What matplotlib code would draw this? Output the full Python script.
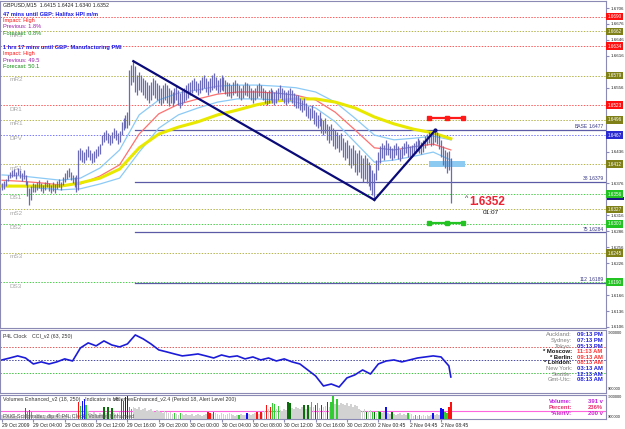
import matplotlib
matplotlib.use("Agg")
import matplotlib.pyplot as plt
import matplotlib.transforms as mtrans
from matplotlib.patches import Rectangle

plt.rcParams['font.family'] = ['Liberation Sans', 'DejaVu Sans']

W, H, DPI = 625, 429, 100

# ---------------------------------------------------------------- data
header_text = "GBPUSD,M15  1.6415 1.6424 1.6340 1.6352"

time_labels = ["29 Oct 2009", "29 Oct 04:00", "29 Oct 08:00", "29 Oct 12:00",
               "29 Oct 16:00", "29 Oct 20:00", "30 Oct 00:00", "30 Oct 04:00",
               "30 Oct 08:00", "30 Oct 12:00", "30 Oct 16:00", "30 Oct 20:00",
               "2 Nov 00:45", "2 Nov 04:45", "2 Nov 08:45"]
bars_per_label = 16

# bar highs / lows in pips above 1.6000
high_pips = [377, 380, 384, 392, 398, 401, 404, 398, 405, 401, 396, 401, 392,
             380, 367, 371, 377,
             375, 379, 382, 377, 373, 379, 382, 377, 373, 379, 375, 380, 384, 379,
             388, 396, 401, 405, 398, 392, 388, 392,
             439,
             443, 439, 435, 441, 446, 439, 433, 437, 441, 446, 450,
             467, 473, 477, 471, 467, 473, 480, 477, 471, 475,
             492, 499, 505, 510,
             590,
             599, 608, 596, 580, 586,
             580, 574, 571, 567, 561, 567, 574, 571, 565, 561, 556, 561, 565, 561, 556,
             552, 548, 556, 561, 552, 546, 552, 556, 561, 565,
             567, 571, 574, 569, 565, 571, 577, 580, 574, 569, 574, 580, 583, 577, 571,
             574, 580, 577, 571, 567,
             565, 561, 567, 571, 565, 561, 556, 561, 567, 565, 561, 556, 552, 556, 561,
             565, 561, 556, 552, 548, 552, 556, 552, 548, 552,
             556, 561, 556, 552, 548, 552, 556, 552, 546, 542,
             542, 537, 533, 537, 527, 522, 518, 524, 514, 510, 505, 510, 499, 495, 499,
             488, 484, 488, 480, 477,
             473, 467, 471, 461, 454, 458, 448, 443, 448, 439, 433, 439, 429, 424, 429,
             424, 416, 411, 401, 396,
             420, 435, 446, 452, 448, 458,
             452, 446, 443, 448, 452, 446, 441, 446, 452, 456, 450, 446, 448, 452, 456,
             461, 458, 454, 458,
             465, 469, 473, 467, 471, 477,
             473, 467, 458, 446, 439,
             435, 437,
             424]
low_pips = [364, 366, 371, 380, 386, 388, 390, 384, 392, 386, 380, 385, 373,
            352, 335, 345, 360,
            360, 364, 367, 362, 358, 364, 369, 362, 358, 362, 358, 366, 369, 364,
            373, 379, 384, 388, 382, 377, 369, 360,
            364,
            420, 416, 414, 420, 426, 420, 414, 416, 424, 428, 431,
            448, 454, 458, 452, 448, 452, 461, 458, 450, 454,
            467, 477, 480, 480,
            486,
            561, 567, 548, 542, 552,
            548, 542, 537, 533, 527, 533, 542, 537, 533, 527, 524, 527, 533, 527, 522,
            527, 522, 527, 533, 524, 518, 524, 530, 533, 537,
            542, 546, 552, 548, 542, 546, 552, 556, 548, 542, 548, 552, 556, 552, 546,
            548, 552, 550, 544, 540,
            540, 537, 542, 546, 540, 537, 533, 537, 542, 540, 537, 533, 527, 533, 537,
            540, 537, 533, 527, 524, 527, 533, 527, 524, 527,
            533, 537, 533, 527, 524, 527, 533, 527, 522, 518,
            518, 514, 510, 514, 503, 499, 495, 499, 488, 484, 480, 484, 471, 467, 471,
            458, 452, 458, 446, 441,
            443, 435, 439, 426, 420, 424, 411, 405, 411, 398, 392, 398, 386, 379, 384,
            377, 371, 364, 354, 345,
            382, 401, 414, 424, 420, 429,
            429, 424, 420, 424, 429, 422, 418, 424, 429, 433, 426, 422, 426, 429, 433,
            437, 433, 431, 435,
            443, 448, 452, 446, 448, 454,
            450, 441, 426, 411, 405,
            396, 401,
            340]
last_close = 1.6352

# moving averages read every 10 bars (pips above 1.6000)
ma_idx = [0, 10, 20, 30, 40, 50, 60, 70, 80, 90, 100, 110, 120, 130, 140, 150,
          160, 170, 180, 190, 200, 210, 220, 229]
ma_slow = [371, 371, 371, 371, 377, 386, 403, 443, 469, 482, 492, 505, 514, 524,
           531, 535, 535, 529, 518, 501, 488, 478, 471, 460]
ma_mid = [382, 380, 377, 373, 375, 390, 411, 469, 507, 525, 535, 544, 548, 548,
          546, 542, 533, 510, 477, 443, 439, 445, 450, 439]
band_up = [392, 390, 386, 382, 386, 405, 439, 505, 533, 546, 552, 559, 561, 561,
           559, 556, 548, 529, 499, 467, 458, 461, 465, 458]
band_dn = [373, 371, 367, 364, 366, 375, 386, 435, 480, 505, 518, 529, 535, 535,
           533, 529, 518, 492, 454, 416, 420, 427, 435, 420]

# daily pivots
pivot_names = ["DR3", "mR3", "DR2", "mR2", "DR1", "mR1", "DPV",
               "mS1", "DS1", "mS2", "DS2", "mS3", "DS3"]
pivot_values = [1.6690, 1.6662, 1.6634, 1.6579, 1.6523, 1.6496, 1.6467,
                1.6412, 1.6356, 1.6327, 1.6300, 1.6245, 1.6190]
pivot_kind = ["R", "m", "R", "m", "R", "m", "P", "m", "S", "m", "S", "m", "S"]
pivot_label_hidden = ["DR3", "DR2"]

# fibo projection levels
fib_names = ["BASE", "38", "75", "112"]
fib_values = [1.6477, 1.6379, 1.6284, 1.6189]
fib_start_bar = 68

# trend lines (bar index, price)
trend_a = [(67, 1.6606), (190, 1.6345)]
trend_b = [(190, 1.6345), (221, 1.6476)]

# objects right of price
marker_bars = [218, 227, 235]
marker_red_price = 1.6500
marker_green_price = 1.6301
zone_bars = (218, 236)
zone_prices = (1.6407, 1.6418)
countdown_text = "01:07"

# CCI, read every 4 bars
cci_idx = list(range(0, 229, 4)) + [229]
cci_values = [0, 15, 31, 15, -31, -15, -31, -15, 8, -8,
              92, 131, 108, 146, 115, 100, 123, 192, 162, 123,
              77, 62, 46, 31, 38, 46, 31, 15, 38, 23,
              31, 8, 23, 0, 15, -8, 8, -15, -31, -77,
              -123, -200, -185, -208, -138, -115, -77, -108, -31, -8,
              0, -15, 0, 15, 23, 31, 23, -46, -131]
cci_levels = [100, 0, -100]

# volumes and colour class per bar
volumes = [100, 75, 125, 100, 75, 100, 125, 75, 100, 75, 100,
           125, 275, 200, 225, 175,
           100, 75, 125, 100, 75, 50, 100, 75, 125, 100, 75, 100, 125, 150, 100, 75,
           100, 125, 75, 100, 125, 100, 150,
           425, 325, 450, 500, 350, 200,
           150, 125, 175, 125, 100, 150, 125,
           300, 150, 300, 125, 275, 150, 125,
           150, 175,
           500, 450, 550, 575, 300, 250,
           300, 275, 250, 300, 225, 250, 275, 200, 225, 250, 200, 175, 225, 200, 175,
           150, 200, 175, 150, 175, 125, 150, 125, 100, 150, 125, 100, 125, 100,
           100, 125, 75, 100, 125, 100, 75, 100, 125,
           175, 150, 125, 175,
           150, 125, 100, 150, 125, 100, 125, 150, 125, 100, 75, 100,
           100,
           125, 100, 100,
           150,
           125, 100, 125, 150,
           175, 125, 175, 150,
           200,
           350, 250, 300,
           400, 375, 250, 325, 225, 200,
           250, 225,
           425, 400, 275, 250, 300,
           275, 250, 300,
           350, 250, 350,
           300,
           425, 300, 350, 400, 275, 350, 300, 325,
           425, 300, 425,
           575, 375, 500, 350,
           400, 375, 350, 400, 325, 375, 300, 350, 325,
           250, 225, 200, 250,
           175,
           200, 225,
           175, 175, 150, 200, 175, 150,
           175,
           300,
           150, 125,
           175,
           125, 100, 125, 150, 100, 125, 100,
           150,
           100, 125, 75,
           100, 75, 100,
           75, 100, 75, 100, 75, 100,
           150,
           100, 125, 100,
           275, 250, 175, 150, 300, 425]
vol_class = ("wwwwwwwwwww" + "wrgrg" + "w" * 23 + "rgbbgw" + "w" * 7 +
             "dwdwdww" + "ww" + "rrbbgg" +
             "wwwwwwwwwwwwwwwwwwwwwgwwgwwww" + "w" * 9 + "rrwr" + "w" * 12 +
             "g" + "www" + "b" + "wwww" + "rwrw" + "w" + "rwr" + "ggwgww" + "ww" +
             "ddwww" + "www" + "dwd" + "w" + "gwdgwdww" + "dwg" + "gwgw" + "w" * 9 +
             "wwww" + "d" + "ww" + "gdwgdw" + "w" + "b" + "ww" + "d" + "w" * 7 +
             "g" + "www" + "gwg" + "w" * 6 + "b" + "www" + "bbggrr")
alert_level = 200

events = [("47 mins until GBP: Halifax HPI m/m", "#1a1ae6", "bold", 14),
          ("Impact: High", "#ff1010", "normal", 20.5),
          ("Previous: 1.8%", "#9a1aa8", "normal", 27),
          ("Forecast: 0.8%", "#138a13", "normal", 33.5),
          ("1 hrs 17 mins until GBP: Manufacturing PMI", "#1a1ae6", "bold", 47),
          ("Impact: High", "#ff1010", "normal", 53.5),
          ("Previous: 49.5", "#9a1aa8", "normal", 60),
          ("Forecast: 50.1", "#138a13", "normal", 66.5)]

clock_places = ["Auckland:", "Sydney:", "Tokyo:", "* Moscow:", "* Berlin:",
                "* London:", "New York:", "Seattle:", "Gmt-Utc:"]
clock_times = ["09:13 PM", "07:13 PM", "05:13 PM", "11:13 AM", "09:13 AM",
               "08:13 AM", "03:13 AM", "12:13 AM", "08:13 AM"]

vol_info_names = ["Volume:", "Percent:", "*AlertV:"]
vol_info_values = ["391 v", "236%", "200 v"]

# ---------------------------------------------------------------- layout
fig = plt.figure(figsize=(W / DPI, H / DPI), dpi=DPI)
fig.patch.set_facecolor("white")
FRAME = "#8a8ab4"
BAR_X0, BAR_DX = 2.0, 1.96
XL = ((0 - BAR_X0) / BAR_DX, (606 - BAR_X0) / BAR_DX)
PX = 0.0001881  # price per pixel


def axes_px(x0, y0, x1, y1):
    a = fig.add_axes([x0 / W, 1 - y1 / H, (x1 - x0) / W, (y1 - y0) / H])
    a.set_facecolor("white")
    for s in a.spines.values():
        s.set_color(FRAME)
        s.set_linewidth(0.8)
    a.set_xlim(*XL)
    return a


def ftext(x, y, s, **kw):
    return fig.text(x / W, 1 - y / H, s, **kw)


def pips(v):
    return [1.6 + p / 10000.0 for p in v]


n = len(high_pips)
idx = list(range(n))
P_TOP = 1.6706 + 7 * PX
P_BOT = 1.6706 - 320 * PX

# ---------------- main price window
ax = axes_px(0, 1, 606, 328)
ax.set_ylim(P_BOT, P_TOP)
ax.set_xticks([])
ax.yaxis.tick_right()
yt_all = [1.6706 - 0.0030 * k for k in range(21)]
ax.set_yticks(yt_all)
yt_lab = ["" if min(abs(t - v) for v in pivot_values + [last_close]) < 5 * PX else f"{t:.4f}"
          for t in yt_all]
ax.set_yticklabels(yt_lab)
ax.tick_params(axis="y", labelsize=3.2, length=2, pad=1.2, color=FRAME, labelcolor="#222222")
blend = mtrans.blended_transform_factory(ax.transAxes, ax.transData)

level_col = {"R": "#ff5a5a", "m": "#b4b450", "P": "#7878ff", "S": "#4ccc4c"}
box_col = {"R": "#ff1010", "m": "#808018", "P": "#2a2ad0", "S": "#22c322"}
for name, val, kind in zip(pivot_names, pivot_values, pivot_kind):
    ax.axhline(val, color=level_col[kind], lw=0.7, ls=(0, (1.5, 1.5)), zorder=1)
    if name not in pivot_label_hidden:
        ax.annotate(name, (4, val), xytext=(0, -1), textcoords="offset points",
                    fontsize=4.6, color="#a8a8a8", va="top", ha="left", zorder=1)
    ax.text(1.003, val, f"{val:.4f}", transform=blend, fontsize=3.3, color="white",
            va="center", ha="left", clip_on=False, zorder=10,
            bbox=dict(boxstyle="square,pad=0.3", fc=box_col[kind], ec="none"))

# current price marker
ax.add_patch(Rectangle((1.002, last_close - 3.5 * PX), 0.027, 2.2 * PX, transform=blend,
                       fc="#1a1a80", ec="none", clip_on=False, zorder=9))

for name, val in zip(fib_names, fib_values):
    ax.plot([fib_start_bar, XL[1]], [val, val], color="#5a5aa6", lw=0.9, zorder=2)
    ax.text(0.996, val + 0.5 * PX, f"{val:.4f}", transform=blend, fontsize=3.6,
            color="#3a3a8a", ha="right", va="bottom", zorder=3)
    ax.text(0.970, val + 0.5 * PX, name, transform=blend, fontsize=3.6,
            color="#3a3a8a", ha="right", va="bottom", zorder=3)

# zone and markers
ax.add_patch(Rectangle((zone_bars[0], zone_prices[0]), zone_bars[1] - zone_bars[0],
                       zone_prices[1] - zone_prices[0], fc="#8ccaf2", ec="none", zorder=2))
for price, col in [(marker_red_price, "#ff1a1a"), (marker_green_price, "#22c322")]:
    ax.plot([marker_bars[0], marker_bars[-1]], [price, price], color=col, lw=1.6, zorder=4)
    ax.plot(marker_bars, [price] * len(marker_bars), ls="none", marker="s", ms=2.6,
            color=col, zorder=4)

# moving averages
ax.plot(ma_idx, pips(band_up), color="#8ccaf6", lw=0.9, zorder=3)
ax.plot(ma_idx, pips(band_dn), color="#8ccaf6", lw=0.9, zorder=3)
ax.plot(ma_idx, pips(ma_mid), color="#ff7070", lw=0.9, zorder=3)
ax.plot(ma_idx, pips(ma_slow), color="#e8e800", lw=2.2, zorder=3)

# price bars
ax.vlines(idx, pips(low_pips), pips(high_pips), color="#6a6ab8", lw=0.9, zorder=5)

# trend lines
for seg in (trend_a, trend_b):
    ax.plot([p[0] for p in seg], [p[1] for p in seg], color="#0a0a78", lw=1.6, zorder=6)
ax.plot([trend_b[1][0]], [trend_b[1][1]], "o", ms=2, color="#0a0a78", zorder=6)

ax.text(n + 6, last_close - 2 * PX, "^", fontsize=5, color="#333333", ha="left", va="center")
ax.text(n + 8.5, last_close - 6 * PX, f"{last_close:.4f}", fontsize=8.5, color="#ee2233",
        fontweight="bold", ha="left", va="center")
ax.text(n + 15.5, last_close - 16 * PX, countdown_text, fontsize=4.6, color="#111111",
        ha="left", va="center")

# texts at top-left
ftext(3, 5, header_text, fontsize=3.8, color="#222222", va="center")
for s, col, wt, y in events:
    ftext(3, y, s, fontsize=4.1, color=col, fontweight=wt, va="center", zorder=5)

# ---------------- CCI window
ax2 = axes_px(0, 330, 606, 393)
ax2.set_ylim(-254, 230)
ax2.set_xticks([])
ax2.set_yticks([])
for lv, col in zip(cci_levels, ["#e05a5a", "#4a4aa0", "#44c044"]):
    ax2.axhline(lv, color=col, lw=0.7, ls=(0, (1.5, 1.5)))
ax2.plot(cci_idx, cci_values, color="#1c1cd8", lw=1.2)
ax2.text(0.005, 0.9, "P4L Clock", transform=ax2.transAxes, fontsize=3.8, color="#333333",
         va="center")
ax2.text(0.053, 0.9, "CCI_v2 (63, 250)", transform=ax2.transAxes, fontsize=3.8,
         color="#333333", va="center")

for k, (pl, tm) in enumerate(zip(clock_places, clock_times)):
    y = 335 + 5.6 * k
    star = pl.startswith("*")
    ftext(572, y, pl, fontsize=4.2, ha="right", va="center",
          color="#111111" if star else "#808080", fontweight="bold" if star else "normal")
    ftext(577, y, tm, fontsize=4.2, ha="left", va="center", fontweight="bold",
          color="#ff3030" if star else "#2020e0")

# ---------------- Volume window
ax3 = axes_px(0, 395, 606, 419)
ax3.set_ylim(0, 600)
ax3.set_yticks([])
cmap = {"w": "#d2d2d2", "g": "#33cc33", "d": "#0a6e0a", "r": "#ff1010", "b": "#1010ee"}
ax3.bar(idx, volumes, width=0.8, color=[cmap[c] for c in vol_class], zorder=2)
ax3.axhline(alert_level, color="#ff66dd", lw=0.8, zorder=1)
ticks = list(range(0, n, bars_per_label))[:len(time_labels)]
ax3.set_xticks(ticks)
ax3.set_xticklabels(time_labels, ha="left")
ax3.tick_params(axis="x", labelsize=3.6, length=2, pad=1.2, color=FRAME, labelcolor="#222222")
ax3.text(0.005, 0.82, "Volumes Enhanced_v2 (18, 250)  -Indicator is off.", transform=ax3.transAxes,
         fontsize=3.8, color="#333333", va="center")
ax3.text(0.187, 0.82, "VolumesEnhanced_v2.4 (Period 18, Alert Level 200)",
         transform=ax3.transAxes, fontsize=3.8, color="#333333", va="center")
ax3.text(0.005, 0.12, "FXIG-Scalptrader, dip 4: P4L Clock: Volumes Enhanced", transform=ax3.transAxes,
         fontsize=3.8, color="#555555", va="center")

for k, (nm, vv) in enumerate(zip(vol_info_names, vol_info_values)):
    y = 401.7 + 5.8 * k
    col = ["#c020e0", "#e8306e", "#d020d0"][k]
    ftext(572, y, nm, fontsize=4.2, ha="right", va="center", fontweight="bold", color=col)
    ftext(603, y, vv, fontsize=4.2, ha="right", va="center", fontweight="bold", color=col)

# sub-window scale labels
for y, s in [(333, "-900000"), (389, "900000"), (397, "-900000"), (417, "900000")]:
    ftext(608, y, s, fontsize=2.9, color="#222222", va="center")

fig.savefig("out.png", dpi=DPI, facecolor="white")
